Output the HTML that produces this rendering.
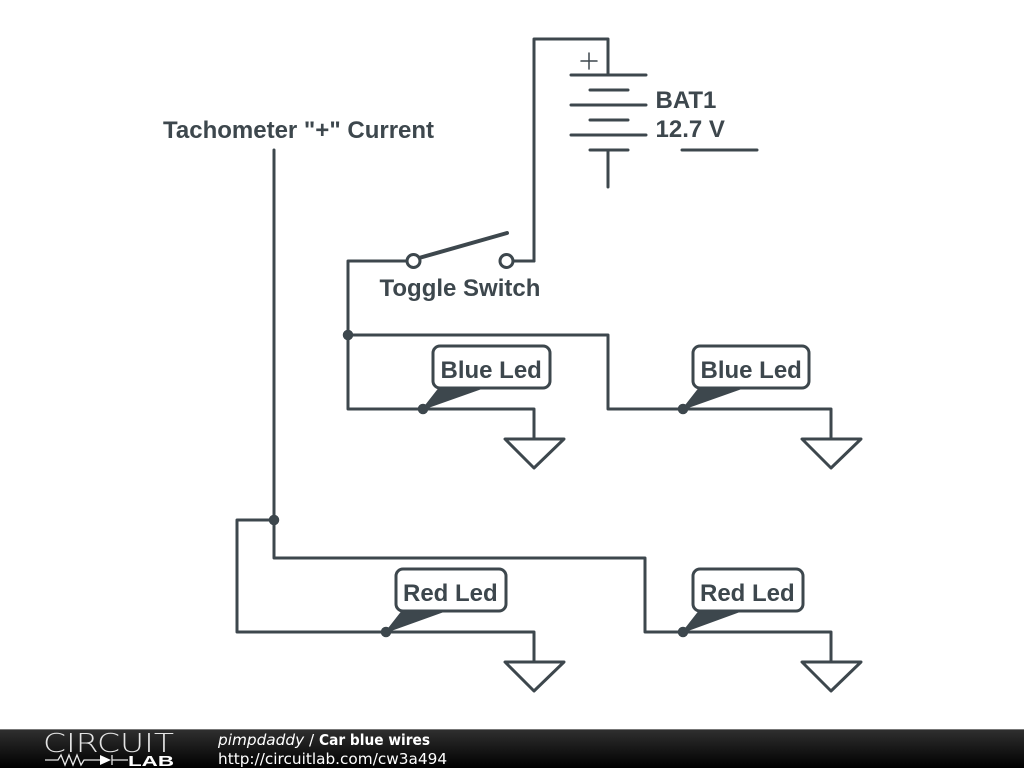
<!DOCTYPE html>
<html><head><meta charset="utf-8"><style>
html,body{margin:0;padding:0;background:#fff;width:1024px;height:768px;overflow:hidden}
svg{display:block}
</style></head><body>
<svg width="1024" height="768" viewBox="0 0 1024 768" xmlns="http://www.w3.org/2000/svg">
<defs><linearGradient id="g" x1="0" y1="0" x2="0" y2="1"><stop offset="0" stop-color="#303030"/><stop offset="1" stop-color="#000"/></linearGradient></defs>
<rect width="1024" height="768" fill="#fff"/>
<g fill="none" stroke="#3d474d" stroke-width="3" stroke-linecap="round" stroke-linejoin="round">
<!-- battery -->
<path d="M534 261V39H608V75"/>
<path d="M571 75H646M590 90H628M571 105H646M590 120H628M571 135H646M590 150H628M608 150V187M682 150H757"/>
<path d="M581 61H597M589 53V69" stroke-width="1.5"/>
<!-- switch -->
<path d="M513 261H534M407 261H348V409H423M348 335H608V409H683"/>
<path d="M419 258L507 233" stroke-width="4"/>
<circle cx="413.500" cy="261" r="6.500" fill="#fff"/>
<circle cx="506.500" cy="261" r="6.500" fill="#fff"/>
<!-- LED wires -->
<path d="M423 409H534V439M683 409H831V439"/>
<path d="M274 150V558H645V632H683H831V662M274 520H237V632H534V662"/>
<!-- grounds -->
<path d="M505 439H564L534 468ZM802 439H861L831 468ZM505 662H564L534 691ZM802 662H861L831 691Z"/>
</g>
<g fill="#3d474d" stroke="#3d474d" stroke-width="1.500" stroke-linejoin="round">
<circle cx="348" cy="335" r="4.500"/><circle cx="274" cy="520" r="4.500"/>
<circle cx="423" cy="409" r="4.500"/><circle cx="683" cy="409" r="4.500"/>
<circle cx="386" cy="632" r="4.500"/><circle cx="683" cy="632" r="4.500"/>
<path d="M423 409L441 386H488Z"/><path d="M683 409L701 386H748Z"/>
<path d="M386 632L404 609H450Z"/><path d="M683 632L701 609H746Z"/>
</g>
<g fill="#fff" stroke="#3d474d" stroke-width="3">
<rect x="433" y="346" width="117" height="42" rx="7"/>
<rect x="693" y="346" width="116" height="42" rx="7"/>
<rect x="396" y="569" width="110" height="42" rx="7"/>
<rect x="693" y="569" width="110" height="42" rx="7"/>
</g>
<g font-family="'Liberation Sans',sans-serif" font-size="24" font-weight="bold" fill="#3d474d">
<text x="655.500" y="108">BAT1</text>
<text x="655.500" y="137">12.7 V</text>
<text x="163" y="138">Tachometer "+" Current</text>
<text x="379.500" y="296">Toggle Switch</text>
<text x="440.500" y="378">Blue Led</text>
<text x="700.500" y="378">Blue Led</text>
<text x="403" y="601">Red Led</text>
<text x="700" y="601">Red Led</text>
</g>
<!-- footer -->
<rect y="729" width="1024" height="39" fill="url(#g)"/>
<rect y="729" width="1024" height="1" fill="#777"/>
<text x="43" y="752" font-family="'DejaVu Sans',sans-serif" font-weight="200" font-size="26" fill="#e4e4e4" textLength="131" lengthAdjust="spacingAndGlyphs">CIRCUIT</text>
<g fill="none" stroke="#e8e8e8" stroke-width="1.300">
<path d="M45 760H58L61 755L65 765L69 755L73 765L77 755L81 765L84 760H100M112 760H128"/>
<path d="M112 755V765"/>
</g>
<path d="M100 755L111 760L100 765Z" fill="#fff"/>
<text x="128" y="766" font-family="'Liberation Sans',sans-serif" font-size="15" font-weight="bold" fill="#fff" textLength="46" lengthAdjust="spacingAndGlyphs">LAB</text>
<g font-family="'DejaVu Sans',sans-serif" fill="#fff">
<text x="218" y="745" font-size="15.300" font-style="italic">pimpdaddy</text>
<text x="309" y="745" font-size="15.300">/</text>
<text x="319" y="745" font-size="15.300" font-weight="bold" textLength="111" lengthAdjust="spacingAndGlyphs">Car blue wires</text>
<text x="218" y="764" font-size="15.300">http://circuitlab.com/cw3a494</text>
</g>
</svg>
</body></html>
